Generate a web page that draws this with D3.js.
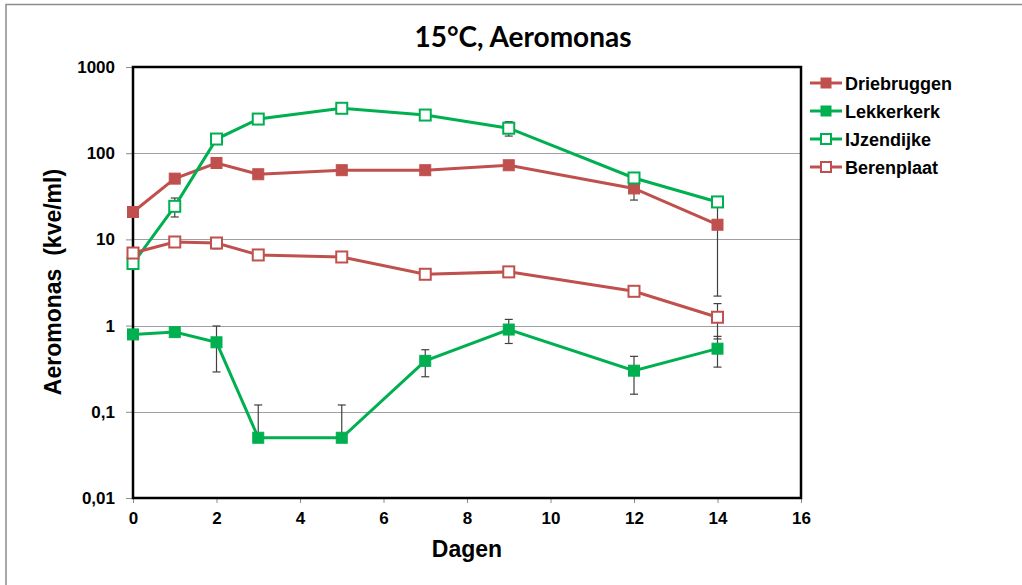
<!DOCTYPE html>
<html>
<head>
<meta charset=utf-8>
<style>
body {margin: 0; background: #fff;}
svg {display: block; font-family: 'Liberation Sans', Arial, sans-serif;}
.axis text {font-size: 17px; font-weight: bold; fill: #000;}
.axis line {stroke: #8c8c8c;}
.grid line {stroke: #a0a0a0; stroke-width: 1;}
</style>
</head>
<body>
<svg id=chart width=1022 height=585></svg>

<script src='https://cdn.jsdelivr.net/npm/d3@7/dist/d3.min.js'></script>
<script>
//data
var days = [0, 1, 2, 3, 5, 7, 9, 12, 14];
var seriesNames = ['Driebruggen', 'Lekkerkerk', 'IJzendijke', 'Berenplaat'];
var driebruggen    = [20.8, 50.7, 77, 57, 63.5, 63.5, 72.5, 39, 14.8];
var driebruggenSd  = [null, null, null, null, null, null, null, 10.4, 12.6];
var lekkerkerk     = [0.79, 0.84, 0.64, 0.05, 0.05, 0.39, 0.9, 0.3, 0.54];
var lekkerkerkSd   = [null, null, 0.35, 0.07, 0.07, 0.135, 0.28, 0.14, 0.21];
var ijzendijke     = [5.25, 24.2, 146, 249, 332, 277, 195, 51.6, 27.2];
var ijzendijkeSd   = [null, 6, null, null, null, null, 37, null, null];
var berenplaat     = [6.95, 9.33, 9.08, 6.6, 6.25, 3.94, 4.2, 2.5, 1.25];
var berenplaatSd   = [null, null, 1.3, null, null, null, null, null, 0.55];
var yTicks = [0.01, 0.1, 1, 10, 100, 1000];
var xTicks = [0, 2, 4, 6, 8, 10, 12, 14, 16];

var red = '#c0504d', green = '#00b050';
var series = [
  {name: seriesNames[0], values: driebruggen, sd: driebruggenSd, color: red,   filled: true},
  {name: seriesNames[1], values: lekkerkerk,  sd: lekkerkerkSd,  color: green, filled: true},
  {name: seriesNames[2], values: ijzendijke,  sd: ijzendijkeSd,  color: green, filled: false},
  {name: seriesNames[3], values: berenplaat,  sd: berenplaatSd,  color: red,   filled: false}
];

//setup margins
var margin = {top: 67, left: 133};
var width = 668, height = 431;
var root = d3.select('#chart');

//outer chart frame
root.append('rect')
    .attr('x', 6).attr('y', 4.5)
    .attr('width', 1100).attr('height', 700)
    .attr('fill', '#fff').attr('stroke', '#8c8c8c').attr('stroke-width', 1.5);

var svg = root.append('g')
    .attr('transform', 'translate(' + margin.left + ',' + margin.top + ')');

var x = d3.scaleLinear().domain([0, 16]).range([0, width]);
var y = d3.scaleLog().domain([0.01, 1000]).range([height, 0]);

function fmt(v){ return String(v).replace('.', ','); }

//gridlines
svg.append('g').attr('class', 'grid')
  .selectAll('line')
  .data([0.1, 1, 10, 100])
  .enter().append('line')
    .attr('x1', 0).attr('x2', width)
    .attr('y1', function(d){ return Math.round(y(d)) + 0.5; })
    .attr('y2', function(d){ return Math.round(y(d)) + 0.5; });

//axes
var yAxis = svg.append('g').attr('class', 'axis')
    .call(d3.axisLeft(y).tickValues(yTicks).tickFormat(fmt).tickSize(7).tickPadding(11));
yAxis.select('.domain').remove();

var xAxis = svg.append('g').attr('class', 'axis')
    .attr('transform', 'translate(0,' + height + ')')
    .call(d3.axisBottom(x).tickValues(xTicks).tickSize(5).tickPadding(9));
xAxis.select('.domain').remove();

//plot box
svg.append('rect')
    .attr('width', width).attr('height', height)
    .attr('fill', 'none').attr('stroke', '#000').attr('stroke-width', 2.5);

//error bars (clipped like excel when lower end <= 0)
var errG = svg.append('g').attr('stroke', '#404040').attr('stroke-width', 1.2);
series.forEach(function(s){
  s.values.forEach(function(v, i){
    var sd = s.sd[i];
    if(sd == null) return;
    var cx = x(days[i]);
    var top = y(v + sd);
    var lowV = v - sd;
    var bot = lowV > 0 ? y(lowV) : y(v);
    errG.append('line').attr('x1', cx).attr('x2', cx).attr('y1', top).attr('y2', bot);
    errG.append('line').attr('x1', cx - 4).attr('x2', cx + 4).attr('y1', top).attr('y2', top);
    if(lowV > 0)
      errG.append('line').attr('x1', cx - 4).attr('x2', cx + 4).attr('y1', bot).attr('y2', bot);
  });
});

//series lines + markers
var line = d3.line()
    .x(function(d){ return x(d[0]); })
    .y(function(d){ return y(d[1]); });

series.forEach(function(s){
  var pts = days.map(function(d, i){ return [d, s.values[i]]; });
  svg.append('path')
      .datum(pts)
      .attr('fill', 'none')
      .attr('stroke', s.color)
      .attr('stroke-width', 3)
      .attr('d', line);
  svg.append('g').selectAll('rect')
    .data(pts)
    .enter().append('rect')
      .attr('x', function(d){ return x(d[0]) - 5.5; })
      .attr('y', function(d){ return y(d[1]) - 5.5; })
      .attr('width', 11).attr('height', 11)
      .attr('fill', s.filled ? s.color : '#fff')
      .attr('stroke', s.color)
      .attr('stroke-width', s.filled ? 1 : 2);
});

//legend
var legend = root.append('g').attr('transform', 'translate(810,83)');
series.forEach(function(s, i){
  var g = legend.append('g').attr('transform', 'translate(0,' + (i * 28) + ')');
  g.append('line').attr('x1', 0).attr('x2', 32).attr('y1', 0).attr('y2', 0)
      .attr('stroke', s.color).attr('stroke-width', 3);
  g.append('rect').attr('x', 11).attr('y', -5).attr('width', 10).attr('height', 10)
      .attr('fill', s.filled ? s.color : '#fff')
      .attr('stroke', s.color).attr('stroke-width', s.filled ? 1 : 2);
  g.append('text')
      .attr('x', 35).attr('y', 6.5)
      .style('font-size', '18px').style('font-weight', 'bold')
      .text(s.name);
});

//titles
root.append('text')
    .attr('x', 523).attr('y', 47)
    .attr('text-anchor', 'middle')
    .style('font-family', 'Lato, sans-serif')
    .style('font-size', '28px').style('font-weight', 'bold')
    .text('15\u00b0C, Aeromonas');

root.append('text')
    .attr('text-anchor', 'middle')
    .attr('x', margin.left + width / 2)
    .attr('y', 557)
    .style('font-size', '23px').style('font-weight', 'bold')
    .text('Dagen');

root.append('text')
    .attr('text-anchor', 'middle')
    .attr('transform', 'translate(61,' + 282 + ') rotate(-90)')
    .style('font-size', '23px').style('font-weight', 'bold')
    .style('white-space', 'pre')
    .text('Aeromonas  (kve/ml)');
</script>
</body>
</html>
